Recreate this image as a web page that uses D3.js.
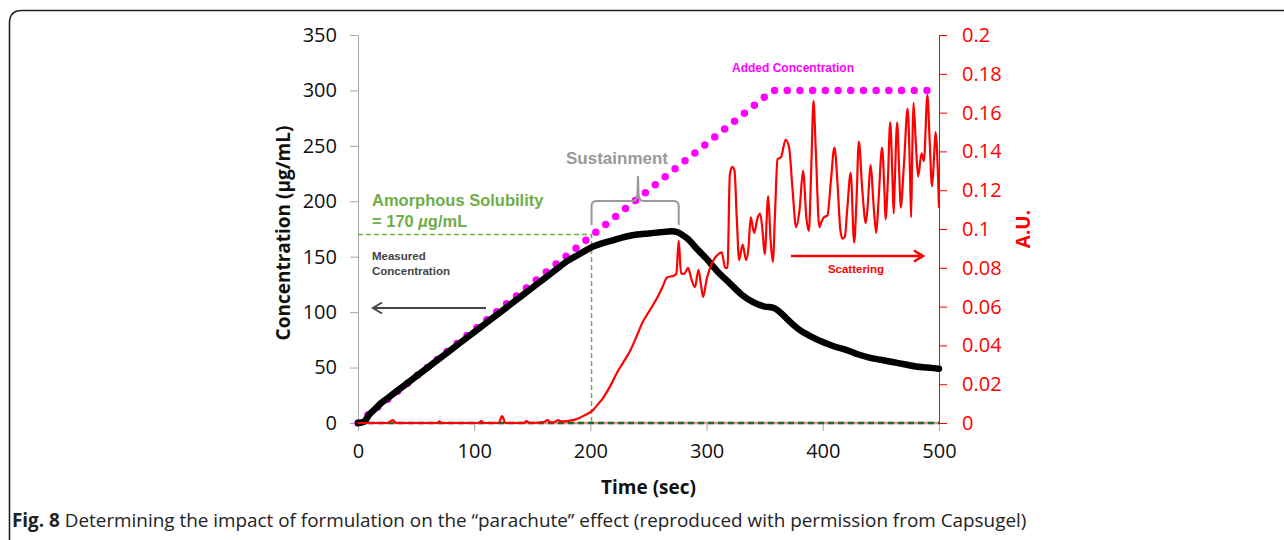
<!DOCTYPE html>
<html><head><meta charset="utf-8">
<script src="https://cdn.jsdelivr.net/npm/d3@7/dist/d3.min.js"></script>
<style>
body{margin:0;background:#fff;}
svg{display:block;}
</style></head>
<body>
<svg id="chart" width="1284" height="540"></svg>
<script>
// ---------- DATA ----------
const xTicks = [0, 100, 200, 300, 400, 500];
const leftTicks = [0, 50, 100, 150, 200, 250, 300, 350];
const rightTicks = [0, 0.02, 0.04, 0.06, 0.08, 0.1, 0.12, 0.14, 0.16, 0.18, 0.2];
const rightTickLabels = ["0","0.02","0.04","0.06","0.08","0.1","0.12","0.14","0.16","0.18","0.2"];

// Added concentration (µg/mL) vs time (s)
const addedTime = [0, 357, 500];
const addedConc = [0, 300, 300];

// Measured concentration (µg/mL)
const measTime = [0,5,10,15,20,30,40,50,60,70,80,90,100,110,120,130,140,150,160,170,180,190,200,210,220,230,240,250,260,270,275,280,285,290,300,310,320,330,340,350,357,362,370,380,390,400,410,420,430,440,450,460,470,480,490,500];
const measConc = [0,1,8,13,18,26,34,42,50,58,66,74,82,90,98,106,114,122,130,138,146,152,158,162,165,168,170,171,172,173,172,169,165,159,148,136,126,116,109,105,104,101,93,84,78,73,69,66,62,59,57,55,53,51,50,49];

// Scattering (A.U.)
const scatTime = [0,25,30,33,68,70,72,104,106,108,121,124,127,143,145,148,160,163,166,170,172,175,180,185,190,195,202,207,211,217,223,228,234,240,245,250,257,262,266,272,274,276,278,281,284,287,290,293,295,297,300,303,306,310,313,316,318,320,322,324,326,328,331,334,336,338,340,341,344,346,348,350,353,355,357,359,361,364,368,371,374,377,380,383,386,388,390,392,394,397,399,401,404,407,410,413,415,417,419,421,424,427,429,431,434,437,439,441,444,446,448,451,453,454,456,458,460,461,462,464,466,467,470,473,475,476,477,478,480,482,485,487,490,492,494,496,497,499,500];
const scatAU = [0,0,0.0015,0,0,0.0008,0,0,0.001,0,0,0.0035,0,0,0.001,0,0.0005,0.0015,0.0003,0.0008,0.0015,0.0008,0.001,0.0015,0.0025,0.004,0.0065,0.01,0.013,0.019,0.026,0.031,0.037,0.045,0.052,0.057,0.064,0.07,0.075,0.076,0.077,0.094,0.077,0.077,0.08,0.074,0.07,0.079,0.072,0.065,0.074,0.08,0.084,0.087,0.088,0.08,0.08,0.128,0.132,0.13,0.105,0.084,0.092,0.084,0.09,0.106,0.1,0.098,0.106,0.108,0.1,0.087,0.117,0.095,0.083,0.11,0.136,0.137,0.146,0.142,0.12,0.101,0.11,0.13,0.105,0.099,0.13,0.166,0.14,0.101,0.104,0.106,0.107,0.125,0.142,0.12,0.1,0.095,0.096,0.11,0.129,0.093,0.115,0.145,0.12,0.103,0.115,0.133,0.11,0.098,0.115,0.142,0.12,0.105,0.125,0.155,0.125,0.108,0.125,0.155,0.125,0.111,0.135,0.162,0.13,0.106,0.14,0.165,0.145,0.127,0.139,0.135,0.169,0.145,0.122,0.14,0.15,0.13,0.111];

const solubility = 170;      // µg/mL
const solubilityTime = 201;  // s
const sustainStart = 201, sustainEnd = 276;

// ---------- CHART ----------
const svg = d3.select("#chart");
const x = d3.scaleLinear().domain([0, 500]).range([358, 939]);
const yL = d3.scaleLinear().domain([0, 350]).range([423, 35]);
const yR = d3.scaleLinear().domain([0, 0.2]).range([423, 35]);

// frame
svg.append("path")
  .attr("d", "M9.5,545 L9.5,23 Q9.5,10.5 22,10.5 L1290,10.5")
  .attr("fill", "none").attr("stroke", "#222").attr("stroke-width", 1.6);

const tickFont = "'Open Sans', sans-serif";

// left axis
const gL = svg.append("g").attr("transform", `translate(${x(0)},0)`)
  .call(d3.axisLeft(yL).tickValues(leftTicks).tickSize(8).tickSizeOuter(0).tickPadding(13));
gL.select(".domain").attr("stroke", "#a6a6a6");
gL.selectAll(".tick line").attr("stroke", "#a6a6a6");
gL.selectAll("text").attr("font-family", tickFont).attr("font-size", 20).attr("fill", "#111");

// x axis
const gX = svg.append("g").attr("transform", `translate(0,${yL(0)})`)
  .call(d3.axisBottom(x).tickValues(xTicks).tickSize(8).tickSizeOuter(0).tickPadding(13));
gX.select(".domain").attr("stroke", "#a6a6a6");
gX.selectAll(".tick line").attr("stroke", "#a6a6a6");
gX.selectAll("text").attr("font-family", tickFont).attr("font-size", 20).attr("fill", "#111");

// right axis
const gR = svg.append("g").attr("transform", `translate(${x(500)},0)`)
  .call(d3.axisRight(yR).tickValues(rightTicks).tickFormat((d, i) => rightTickLabels[i]).tickSize(8).tickSizeOuter(0).tickPadding(15));
gR.select(".domain").attr("stroke", "#ff0000");
gR.selectAll(".tick line").attr("stroke", "#ff0000");
gR.selectAll("text").attr("font-family", tickFont).attr("font-size", 20).attr("fill", "#ff0000");

// zero-line series
svg.append("line").attr("x1", x(0)).attr("x2", x(500)).attr("y1", yL(0)).attr("y2", yL(0))
  .attr("stroke", "#e88a8a").attr("stroke-width", 2.5);
svg.append("line").attr("x1", x(0)).attr("x2", x(500)).attr("y1", yL(0)).attr("y2", yL(0))
  .attr("stroke", "#1f6b2a").attr("stroke-width", 2.5).attr("stroke-dasharray", "6,4");

// solubility dashed guides
const green = "#70ad47";
svg.append("path")
  .attr("d", `M${x(0)},${yL(solubility)} L${x(solubilityTime)},${yL(solubility)} L${x(solubilityTime)},${yL(0)}`)
  .attr("fill", "none").attr("stroke", green).attr("stroke-width", 1.5).attr("stroke-dasharray", "5,3");

// added concentration (dotted magenta)
const addedLine = d3.line().x((d, i) => x(addedTime[i])).y((d, i) => yL(addedConc[i]));
svg.append("path").attr("d", addedLine(addedTime))
  .attr("fill", "none").attr("stroke", "#ff00ff").attr("stroke-width", 7.5)
  .attr("stroke-linecap", "round").attr("stroke-dasharray", "0,12.7");

// measured concentration (thick black)
const measLine = d3.line().curve(d3.curveMonotoneX).x((d, i) => x(measTime[i])).y((d, i) => yL(measConc[i]));
svg.append("path").attr("d", measLine(measTime))
  .attr("fill", "none").attr("stroke", "#000").attr("stroke-width", 6.5)
  .attr("stroke-linejoin", "round").attr("stroke-linecap", "round");

// scattering (red)
const scatLine = d3.line().curve(d3.curveMonotoneX).x((d, i) => x(scatTime[i])).y((d, i) => yR(scatAU[i]));
svg.append("path").attr("d", scatLine(scatTime))
  .attr("fill", "none").attr("stroke", "#ff0000").attr("stroke-width", 2.2)
  .attr("stroke-linejoin", "round");

// axis titles
svg.append("text").attr("transform", `translate(290,${(yL(0)+yL(350))/2 + 4}) rotate(-90)`)
  .attr("text-anchor", "middle").attr("font-family", tickFont).attr("font-weight", "bold")
  .attr("font-size", 19).attr("fill", "#111").text("Concentration (µg/mL)");
svg.append("text").attr("x", (x(0)+x(500))/2).attr("y", 494)
  .attr("text-anchor", "middle").attr("font-family", tickFont).attr("font-weight", "bold")
  .attr("font-size", 19).attr("fill", "#111").text("Time (sec)");
svg.append("text").attr("transform", `translate(1030,${(yR(0)+yR(0.2))/2}) rotate(-90)`)
  .attr("text-anchor", "middle").attr("font-family", tickFont).attr("font-weight", "bold")
  .attr("font-size", 19).attr("fill", "#ff0000").text("A.U.");

// annotations
const annFont = "'Liberation Sans', Arial, sans-serif";
svg.append("text").attr("x", 372).attr("y", 206).attr("font-family", annFont).attr("font-weight", "bold")
  .attr("font-size", 16.5).attr("fill", green).text("Amorphous Solubility");
const t2 = svg.append("text").attr("x", 372).attr("y", 226.5).attr("font-family", annFont).attr("font-weight", "bold")
  .attr("font-size", 16.5).attr("fill", green);
t2.append("tspan").text("= 170 ");
t2.append("tspan").attr("font-style", "italic").text("µ");
t2.append("tspan").text("g/mL");

svg.append("text").attr("x", 617).attr("y", 164).attr("text-anchor", "middle").attr("font-family", annFont)
  .attr("font-weight", "bold").attr("font-size", 17).attr("fill", "#999").text("Sustainment");

// brace
const bx1 = x(sustainStart), bx2 = x(sustainEnd), bm = 638;
svg.append("path")
  .attr("d", `M${bx1},225 L${bx1},206 Q${bx1},201 ${bx1+5},201 L${bm-5},201 Q${bm-1},201 ${bm-0.5},193 L${bm},176 L${bm+0.5},193 Q${bm+1},201 ${bm+5},201 L${bx2-5},201 Q${bx2},201 ${bx2},206 L${bx2},225`)
  .attr("fill", "none").attr("stroke", "#999").attr("stroke-width", 2);

svg.append("text").attr("x", 793).attr("y", 71.5).attr("text-anchor", "middle").attr("font-family", annFont)
  .attr("font-weight", "bold").attr("font-size", 12).attr("fill", "#ff00ff").text("Added Concentration");

svg.append("text").attr("x", 372).attr("y", 260).attr("font-family", annFont)
  .attr("font-weight", "bold").attr("font-size", 11.5).attr("fill", "#444").text("Measured");
svg.append("text").attr("x", 372).attr("y", 274.5).attr("font-family", annFont)
  .attr("font-weight", "bold").attr("font-size", 11.5).attr("fill", "#444").text("Concentration");

svg.append("text").attr("x", 856).attr("y", 273).attr("text-anchor", "middle").attr("font-family", annFont)
  .attr("font-weight", "bold").attr("font-size", 11.5).attr("fill", "#ff0000").text("Scattering");

// arrows
svg.append("path").attr("d", "M486,308 L373,308 M382,302.5 L373,308 L382,313.5")
  .attr("fill", "none").attr("stroke", "#444").attr("stroke-width", 2);
svg.append("path").attr("d", "M791,256 L923,256 M914,250.5 L923,256 L914,261.5")
  .attr("fill", "none").attr("stroke", "#ff0000").attr("stroke-width", 2.5);

// caption
const cap = svg.append("text").attr("x", 12).attr("y", 527).attr("font-family", tickFont)
  .attr("font-size", 15.5).attr("fill", "#222");
cap.append("tspan").attr("font-weight", "bold").text("Fig. 8");
cap.append("tspan").text(" Determining the impact of formulation on the “parachute” effect (reproduced with permission from Capsugel)");
// fit caption width to the figure's caption span
const capW = cap.node().getComputedTextLength();
cap.attr("font-size", 15.5 * 1015 / capW);
</script>
</body></html>
